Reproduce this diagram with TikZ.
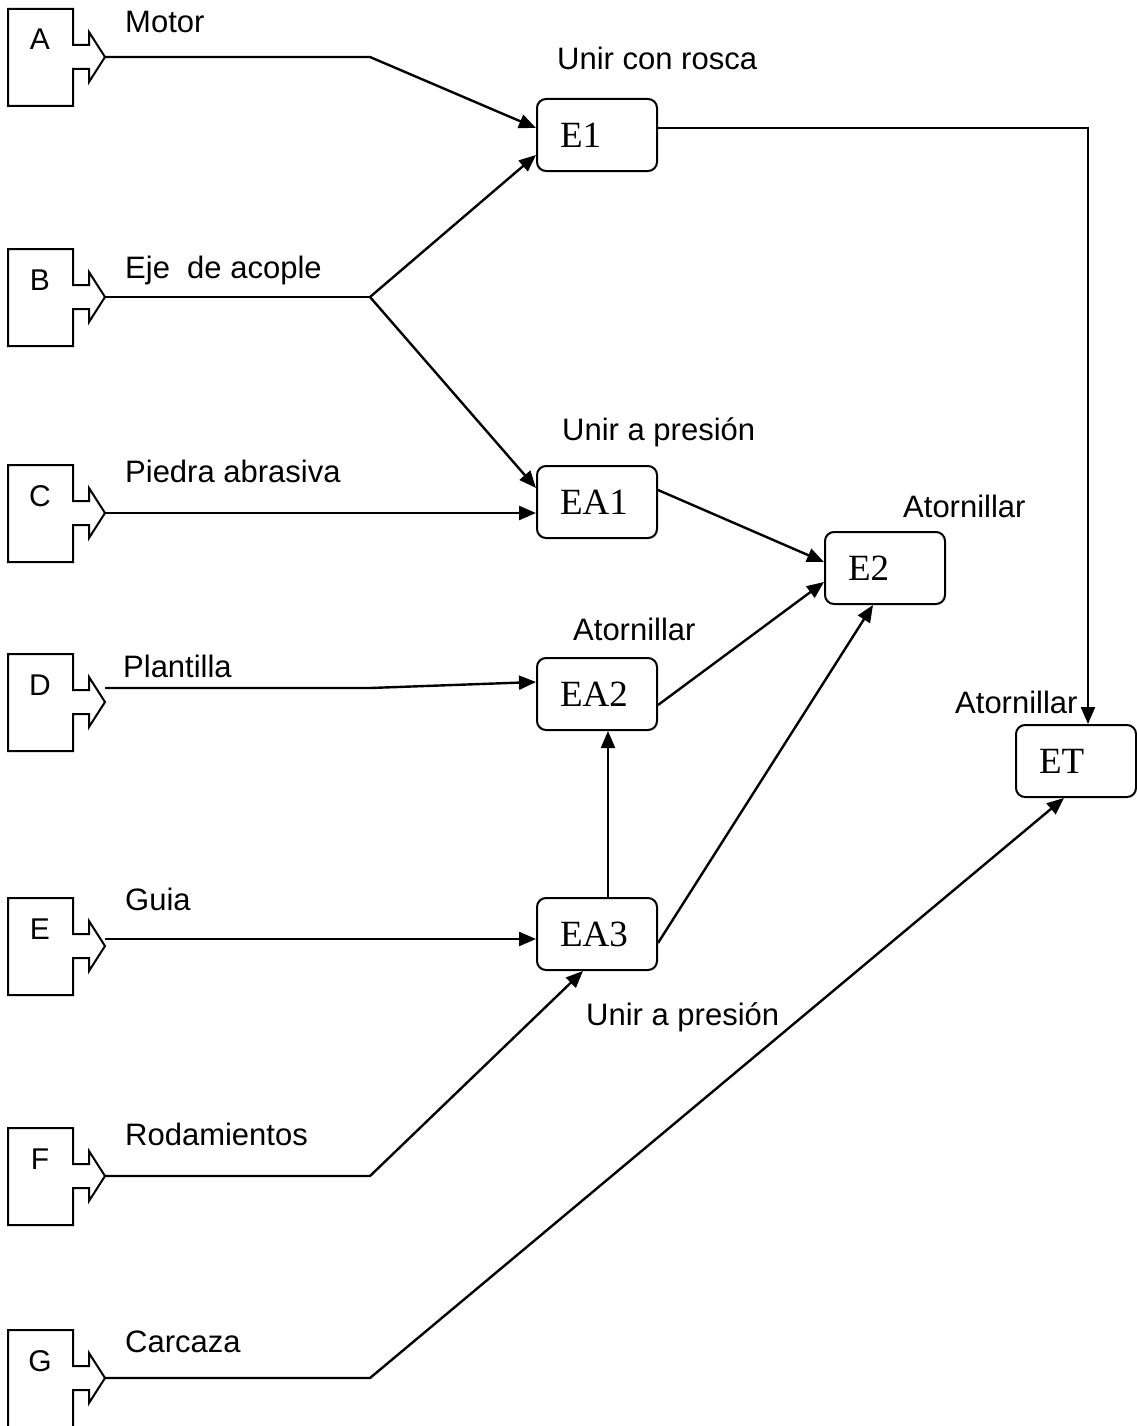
\documentclass[tikz,border=0pt]{standalone}
\usepackage{fontspec}
\setmainfont{Liberation Sans}
\newfontfamily\serifbox{Liberation Serif}
\usetikzlibrary{arrows.meta,calc}
\tikzset{
  partline/.style={line width=2pt, line join=miter},
  partletter/.style={inner sep=0pt, anchor=base, font=\fontsize{30}{34}\selectfont},
  % supplier part: a box with an outgoing arrow notch on its right side
  part/.pic={
    \draw[partline] (8,0) -- (73,0) -- (73,36) -- (89,36) -- (89,23) -- (105,48)
      -- (89,73) -- (89,60) -- (73,60) -- (73,97) -- (8,97) -- cycle;
    \node[partletter] (-id) at (40,41) {#1};
    \coordinate (-tip) at (105,48);
  },
  stepbox/.style={draw, line width=2pt, rounded corners=9pt, minimum height=72pt,
    text width=74pt, inner xsep=23pt, inner ysep=0pt, align=left,
    font=\serifbox\fontsize{37}{40}\selectfont},
  lbl/.style={inner sep=0pt, anchor=base west, font=\fontsize{31}{36}\selectfont},
  conn/.style={line width=2.4pt, -{Triangle[length=17pt,width=14pt]}},
  plain/.style={line width=2.4pt},
}
\begin{document}
\begin{tikzpicture}[x=1pt,y=-1pt]
\fill[white] (0,0) rectangle (1137,1426);
\useasboundingbox (0,0) rectangle (1137,1426);

% parts
\pic (A) at (0,9)    {part=A};
\pic (B) at (0,249)  {part=B};
\pic (C) at (0,465)  {part=C};
\pic (D) at (0,654)  {part=D};
\pic (E) at (0,898)  {part=E};
\pic (F) at (0,1128) {part=F};
\pic (G) at (0,1330) {part=G};

% part names
\node[lbl] (nA) at (125,33)   {Motor};
\node[lbl] (nB) at (125,278)  {Eje\ \ de acople};
\node[lbl] (nC) at (125,482)  {Piedra abrasiva};
\node[lbl] (nD) at (123,677)  {Plantilla};
\node[lbl] (nE) at (125,910)  {Guia};
\node[lbl] (nF) at (125,1145) {Rodamientos};
\node[lbl] (nG) at (125,1352) {Carcaza};

% assembly steps
\node[stepbox] (E1)  at (597,135)  {E1};
\node[stepbox] (EA1) at (597,502)  {EA1};
\node[stepbox] (E2)  at (885,568)  {E2};
\node[stepbox] (EA2) at (597,694)  {EA2};
\node[stepbox] (EA3) at (597,934)  {EA3};
\node[stepbox] (ET)  at (1076,761) {ET};

% operation labels
\node[lbl] (oE1)  at (557,70)   {Unir con rosca};
\node[lbl] (oEA1) at (562,440)  {Unir a presión};
\node[lbl] (oEA2) at (573,640)  {Atornillar};
\node[lbl] (oE2)  at (903,517)  {Atornillar};
\node[lbl] (oET)  at (955,713)  {Atornillar};
\node[lbl] (oEA3) at (586,1025) {Unir a presión};

% bend points
\coordinate (bA) at (370,57);
\coordinate (bB) at (370,297);
\coordinate (bD) at (370,688);
\coordinate (bF) at (370,1176);
\coordinate (bG) at (370,1378);

% connectors
\draw[conn] (A-tip) -- (bA) -- ($(E1.west)+(0,-7)$);
\draw[plain] (B-tip) -- (bB);
\draw[conn] (bB) -- ($(E1.west)+(0,20)$);
\draw[conn] (bB) -- ($(EA1.west)+(0,-14)$);
\draw[conn] (C-tip) -- ($(EA1.west)+(0,11)$);
\draw[conn] ($(D-tip)+(0,-14)$) -- (bD) -- ($(EA2.west)+(0,-12)$);
\draw[conn] ($(E-tip)+(0,-7)$) -- ($(EA3.west)+(0,5)$);
\draw[conn] (F-tip) -- (bF) -- ($(EA3.south)+(-14,0)$);
\draw[conn] (G-tip) -- (bG) -- ($(ET.south)+(-12,0)$);
\draw[conn] ($(E1.east)+(0,-7)$) -| ($(ET.north)+(12,0)$);
\draw[conn] ($(EA1.east)+(0,-12)$) -- ($(E2.west)+(0,-6)$);
\draw[conn] ($(EA2.east)+(0,11)$) -- ($(E2.west)+(0,14)$);
\draw[conn] ($(EA3.north)+(11,0)$) -- ($(EA2.south)+(11,0)$);
\draw[conn] ($(EA3.east)+(0,9)$) -- ($(E2.south)+(-12,0)$);
\end{tikzpicture}
\end{document}
